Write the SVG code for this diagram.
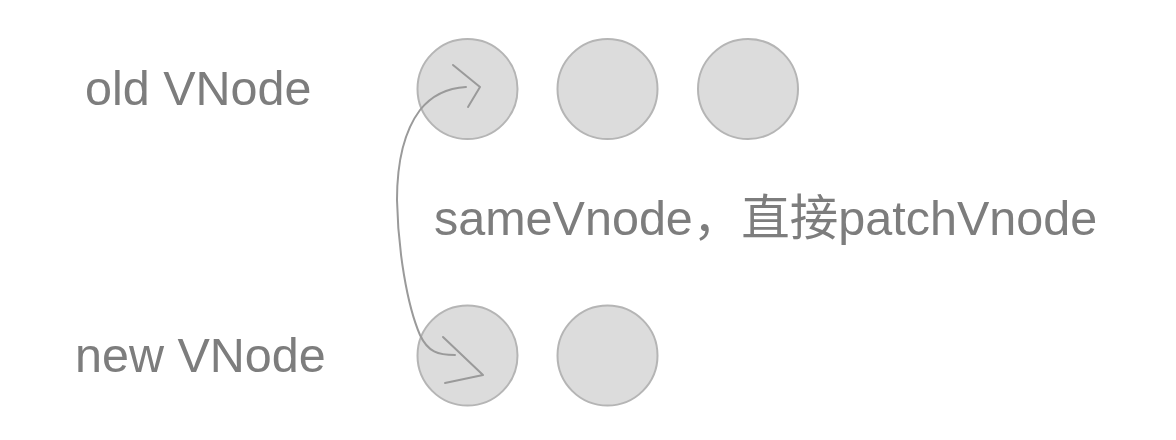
<svg xmlns="http://www.w3.org/2000/svg" width="1176" height="440" viewBox="0 0 1176 440">
<style>
.node{fill:#dcdcdc;stroke:#b5b5b5;stroke-width:2}
.lbl{font-family:"Helvetica Neue","Liberation Sans","Noto Sans CJK SC",sans-serif;font-size:48.5px;fill:#7d7d7d}
.conn{fill:none;stroke:#9a9a9a;stroke-width:2;stroke-linecap:round;stroke-linejoin:round}
</style>
<rect width="1176" height="440" fill="#ffffff"/>
<g id="label-old"><text class="lbl" x="85" y="105">old VNode</text></g>
<g id="label-new"><text class="lbl" x="75" y="372">new VNode</text></g>
<g id="old1"><circle class="node" cx="467.5" cy="89" r="50"/></g>
<g id="old2"><circle class="node" cx="607.5" cy="89" r="50"/></g>
<g id="old3"><circle class="node" cx="748" cy="89" r="50"/></g>
<g id="new1"><circle class="node" cx="467.5" cy="355.5" r="50"/></g>
<g id="new2"><circle class="node" cx="607.5" cy="355.5" r="50"/></g>
<g id="label-mid"><text class="lbl" x="434" y="235">sameVnode，直接patchVnode</text></g>
<g id="connectors">
<path class="conn" d="M455,355 C438,355 428,352 420,335 C407,305 398,250 397,200 C397,160 405,130 420,110 C432,95 448,88 466,87"/>
<polyline class="conn" points="453,65 480,87 468,107"/>
<polyline class="conn" points="443,337 483,375 445,383"/>
</g>
</svg>
